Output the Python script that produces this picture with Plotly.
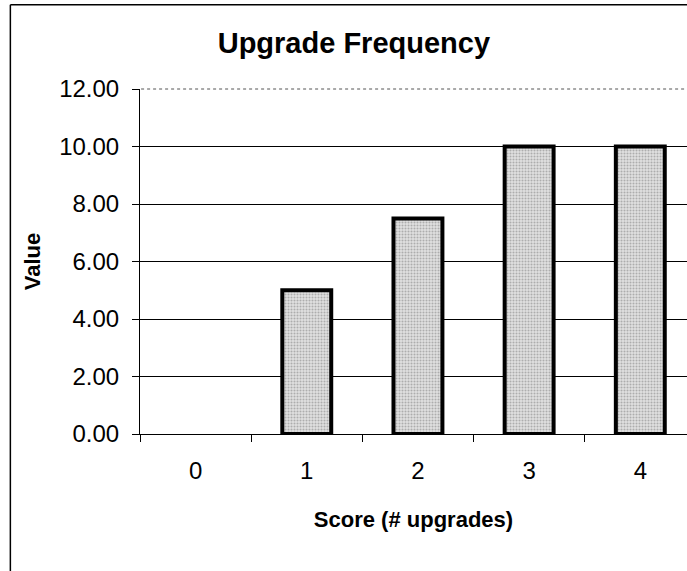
import plotly.graph_objects as go

# Upgrade frequency by score
categories = ["0", "1", "2", "3", "4"]
values = [0.0, 5.0, 7.5, 10.0, 10.0]
y_ticks = [0, 2, 4, 6, 8, 10, 12]

FONT = "Liberation Sans, Arial, Helvetica, sans-serif"

# empty categories get no outline so no stray baseline stroke is drawn
outline_widths = [0 if v == 0 else 4 for v in values]

fig = go.Figure(
    go.Bar(
        x=categories,
        y=values,
        width=0.44,
        marker=dict(
            color="#cfcfcf",
            line=dict(color="black", width=outline_widths),
            pattern=dict(shape=".", fgcolor="#777777", bgcolor="#e2e2e2",
                         size=3, solidity=0.4),
        ),
        showlegend=False,
    )
)

fig.update_layout(
    width=687,
    height=571,
    margin=dict(l=140, r=0, t=89, b=137),
    paper_bgcolor="white",
    plot_bgcolor="white",
    font=dict(family=FONT, color="black"),
    title=dict(
        text="<b>Upgrade Frequency</b>",
        font=dict(size=29, family=FONT, color="black"),
        x=0.391, xanchor="center", xref="paper",
        y=0.925, yanchor="middle", yref="container",
    ),
    shapes=[
        # outer chart frame (top and left edges)
        dict(type="line", xref="paper", yref="paper", x0=-0.237, x1=1.0,
             y0=1.244, y1=1.244, line=dict(color="black", width=1.5)),
        dict(type="line", xref="paper", yref="paper", x0=-0.237, x1=-0.237,
             y0=1.244, y1=-0.4, line=dict(color="black", width=1.5)),
        # softer dotted top edge of the plot area
        dict(type="line", xref="paper", yref="paper", x0=0.002, x1=1.0,
             y0=1.0, y1=1.0, line=dict(color="white", width=2)),
        dict(type="line", xref="paper", yref="paper", x0=0.002, x1=1.0,
             y0=1.0, y1=1.0, line=dict(color="#555555", width=1, dash="dot")),
    ],
)

fig.update_xaxes(
    type="category",
    range=[-0.5, 4.42],
    tickson="boundaries",
    ticks="outside",
    ticklen=7,
    tickcolor="black",
    showline=True,
    linecolor="black",
    linewidth=1,
    showgrid=False,
    tickfont=dict(size=24, family=FONT),
    ticklabelstandoff=15,
    title=dict(text="<b>Score (# upgrades)</b>", font=dict(size=22, family=FONT),
               standoff=28),
)

fig.update_yaxes(
    range=[0, 12],
    tickvals=y_ticks,
    tickformat=".2f",
    ticks="outside",
    ticklen=7,
    tickcolor="black",
    showline=True,
    linecolor="black",
    linewidth=1,
    showgrid=True,
    gridcolor="black",
    gridwidth=1,
    zeroline=False,
    tickfont=dict(size=24, family=FONT),
    ticklabelstandoff=8,
    title=dict(text="<b>Value</b>", font=dict(size=22, family=FONT), standoff=12),
)

fig.write_html("out.html")
